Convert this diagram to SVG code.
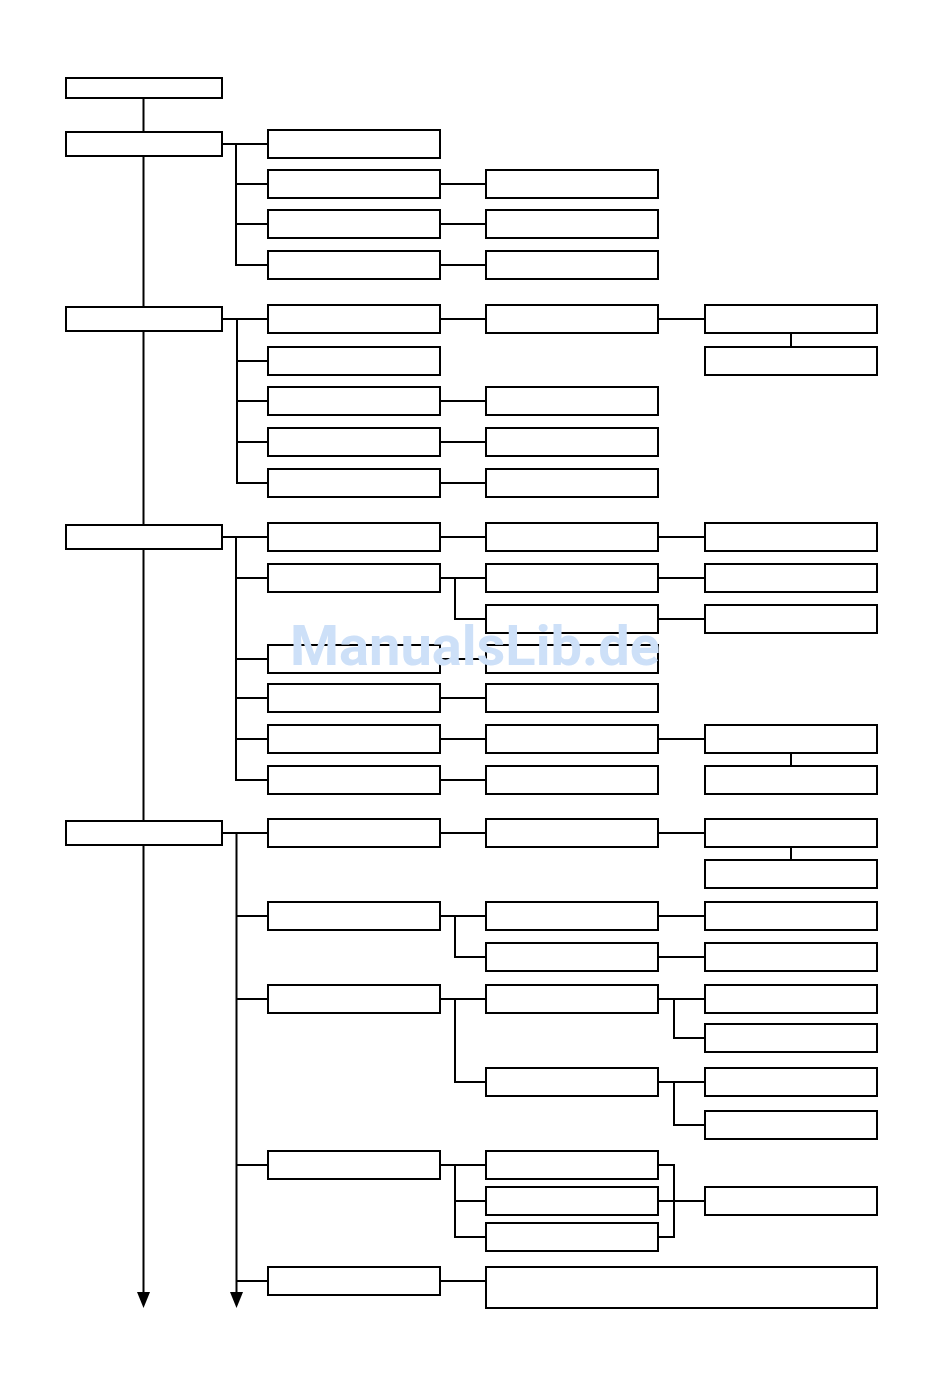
<svg xmlns="http://www.w3.org/2000/svg" width="950" height="1398" viewBox="0 0 950 1398">
<style>
.box{fill:#fff;stroke:#000;stroke-width:2}
.ln{fill:none;stroke:#000;stroke-width:2}
.wm{font-family:Roboto,"Liberation Sans",sans-serif;font-weight:bold;font-size:56px;fill:#cde0f8}
</style>
<defs>
<marker id="arr" markerUnits="userSpaceOnUse" markerWidth="17" markerHeight="14" refX="0" refY="6.5" orient="auto" viewBox="0 0 17 14">
<path d="M0,0 L16,6.5 L0,13 z" fill="#000"/>
</marker>
</defs>
<rect width="950" height="1398" fill="#fff"/>
<g id="connectors">
<path class="ln" d="M143.5 98 V1292" marker-end="url(#arr)"/>
<path class="ln" d="M236.5 833 V1292" marker-end="url(#arr)"/>
<path class="ln" d="M222 144 H268 M236 144 V265 H268 M236 184 H268 M236 224 H268 M440 184 H486 M440 224 H486 M440 265 H486"/>
<path class="ln" d="M222 319 H268 M237 319 V483 H268 M237 361 H268 M237 401 H268 M237 442 H268 M440 319 H486 M440 401 H486 M440 442 H486 M440 483 H486 M658 319 H705 M791 333 V347"/>
<path class="ln" d="M222 537 H268 M236 537 V780 H268 M236 578 H268 M236 659 H268 M236 698 H268 M236 739 H268 M440 537 H486 M440 578 H486 M455 578 V619 H486 M440 659 H486 M440 698 H486 M440 739 H486 M440 780 H486 M658 537 H705 M658 578 H705 M658 619 H705 M658 739 H705 M791 753 V766"/>
<path class="ln" d="M222 833 H268 M236 916 H268 M236 999 H268 M236 1165 H268 M236 1281 H268 M440 833 H486 M658 833 H705 M791 847 V860 M440 916 H486 M455 916 V957 H486 M658 916 H705 M658 957 H705 M440 999 H486 M455 999 V1082 H486 M658 999 H705 M674 999 V1038 H705 M658 1082 H705 M674 1082 V1125 H705 M440 1165 H486 M455 1165 V1237 H486 M455 1201 H486 M658 1165 H674 V1237 H658 M658 1201 H705 M440 1281 H486"/>
</g>
<g id="left">
<g id="n-l0"><rect class="box" x="66" y="78" width="156" height="20"/></g>
<g id="n-l1"><rect class="box" x="66" y="132" width="156" height="24"/></g>
<g id="n-l2"><rect class="box" x="66" y="307" width="156" height="24"/></g>
<g id="n-l3"><rect class="box" x="66" y="525" width="156" height="24"/></g>
<g id="n-l4"><rect class="box" x="66" y="821" width="156" height="24"/></g>
</g>
<g id="col2">
<g id="n-a1"><rect class="box" x="268" y="130" width="172" height="28"/></g>
<g id="n-a2"><rect class="box" x="268" y="170" width="172" height="28"/></g>
<g id="n-a3"><rect class="box" x="268" y="210" width="172" height="28"/></g>
<g id="n-a4"><rect class="box" x="268" y="251" width="172" height="28"/></g>
<g id="n-a5"><rect class="box" x="268" y="305" width="172" height="28"/></g>
<g id="n-a6"><rect class="box" x="268" y="347" width="172" height="28"/></g>
<g id="n-a7"><rect class="box" x="268" y="387" width="172" height="28"/></g>
<g id="n-a8"><rect class="box" x="268" y="428" width="172" height="28"/></g>
<g id="n-a9"><rect class="box" x="268" y="469" width="172" height="28"/></g>
<g id="n-a10"><rect class="box" x="268" y="523" width="172" height="28"/></g>
<g id="n-a11"><rect class="box" x="268" y="564" width="172" height="28"/></g>
<g id="n-a12"><rect class="box" x="268" y="645" width="172" height="28"/></g>
<g id="n-a13"><rect class="box" x="268" y="684" width="172" height="28"/></g>
<g id="n-a14"><rect class="box" x="268" y="725" width="172" height="28"/></g>
<g id="n-a15"><rect class="box" x="268" y="766" width="172" height="28"/></g>
<g id="n-a16"><rect class="box" x="268" y="819" width="172" height="28"/></g>
<g id="n-a17"><rect class="box" x="268" y="902" width="172" height="28"/></g>
<g id="n-a18"><rect class="box" x="268" y="985" width="172" height="28"/></g>
<g id="n-a19"><rect class="box" x="268" y="1151" width="172" height="28"/></g>
<g id="n-a20"><rect class="box" x="268" y="1267" width="172" height="28"/></g>
</g>
<g id="col3">
<g id="n-b1"><rect class="box" x="486" y="170" width="172" height="28"/></g>
<g id="n-b2"><rect class="box" x="486" y="210" width="172" height="28"/></g>
<g id="n-b3"><rect class="box" x="486" y="251" width="172" height="28"/></g>
<g id="n-b4"><rect class="box" x="486" y="305" width="172" height="28"/></g>
<g id="n-b5"><rect class="box" x="486" y="387" width="172" height="28"/></g>
<g id="n-b6"><rect class="box" x="486" y="428" width="172" height="28"/></g>
<g id="n-b7"><rect class="box" x="486" y="469" width="172" height="28"/></g>
<g id="n-b8"><rect class="box" x="486" y="523" width="172" height="28"/></g>
<g id="n-b9"><rect class="box" x="486" y="564" width="172" height="28"/></g>
<g id="n-b10"><rect class="box" x="486" y="605" width="172" height="28"/></g>
<g id="n-b11"><rect class="box" x="486" y="645" width="172" height="28"/></g>
<g id="n-b12"><rect class="box" x="486" y="684" width="172" height="28"/></g>
<g id="n-b13"><rect class="box" x="486" y="725" width="172" height="28"/></g>
<g id="n-b14"><rect class="box" x="486" y="766" width="172" height="28"/></g>
<g id="n-b15"><rect class="box" x="486" y="819" width="172" height="28"/></g>
<g id="n-b16"><rect class="box" x="486" y="902" width="172" height="28"/></g>
<g id="n-b17"><rect class="box" x="486" y="943" width="172" height="28"/></g>
<g id="n-b18"><rect class="box" x="486" y="985" width="172" height="28"/></g>
<g id="n-b19"><rect class="box" x="486" y="1068" width="172" height="28"/></g>
<g id="n-b20"><rect class="box" x="486" y="1151" width="172" height="28"/></g>
<g id="n-b21"><rect class="box" x="486" y="1187" width="172" height="28"/></g>
<g id="n-b22"><rect class="box" x="486" y="1223" width="172" height="28"/></g>
<g id="n-b23"><rect class="box" x="486" y="1267" width="391" height="41"/></g>
</g>
<g id="col4">
<g id="n-c1"><rect class="box" x="705" y="305" width="172" height="28"/></g>
<g id="n-c2"><rect class="box" x="705" y="347" width="172" height="28"/></g>
<g id="n-c3"><rect class="box" x="705" y="523" width="172" height="28"/></g>
<g id="n-c4"><rect class="box" x="705" y="564" width="172" height="28"/></g>
<g id="n-c5"><rect class="box" x="705" y="605" width="172" height="28"/></g>
<g id="n-c6"><rect class="box" x="705" y="725" width="172" height="28"/></g>
<g id="n-c7"><rect class="box" x="705" y="766" width="172" height="28"/></g>
<g id="n-c8"><rect class="box" x="705" y="819" width="172" height="28"/></g>
<g id="n-c9"><rect class="box" x="705" y="860" width="172" height="28"/></g>
<g id="n-c10"><rect class="box" x="705" y="902" width="172" height="28"/></g>
<g id="n-c11"><rect class="box" x="705" y="943" width="172" height="28"/></g>
<g id="n-c12"><rect class="box" x="705" y="985" width="172" height="28"/></g>
<g id="n-c13"><rect class="box" x="705" y="1024" width="172" height="28"/></g>
<g id="n-c14"><rect class="box" x="705" y="1068" width="172" height="28"/></g>
<g id="n-c15"><rect class="box" x="705" y="1111" width="172" height="28"/></g>
<g id="n-c16"><rect class="box" x="705" y="1187" width="172" height="28"/></g>
</g>
<text class="wm" x="475" y="665" text-anchor="middle" textLength="370" lengthAdjust="spacingAndGlyphs">ManualsLib.de</text>
</svg>
